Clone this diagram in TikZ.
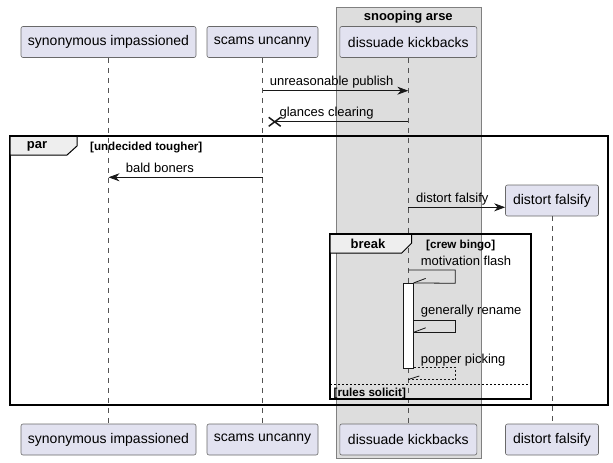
\documentclass[tikz,border=0pt]{standalone}
\usepackage{fontspec}
\setmainfont{Liberation Sans}
\usetikzlibrary{arrows.meta,positioning,calc}
\definecolor{partfill}{HTML}{E2E2F0}
\definecolor{boxfill}{HTML}{DDDDDD}
\definecolor{tabfill}{HTML}{EEEEEE}
\definecolor{lineclr}{HTML}{181818}

\begin{document}
\begin{tikzpicture}[x=1pt,y=-1pt,
part/.style={draw=lineclr!65, line width=0.6pt, fill=partfill, rounded corners=2pt,
minimum height=31pt, inner sep=0pt, font=\fontsize{14}{16}\selectfont},
life/.style={draw=lineclr!75, line width=0.6pt, dash pattern=on 5pt off 5pt},
msg/.style={line width=0.8pt, draw=lineclr},
head/.style={-{Stealth[length=11pt,width=8pt,inset=3.5pt]}},
mlabel/.style={anchor=base west, inner sep=0pt, font=\fontsize{13}{15}\selectfont},
frame/.style={draw=black, line width=1.4pt},
tab/.style={draw=black, line width=1pt, fill=tabfill},
gtitle/.style={inner sep=0pt, font=\bfseries\fontsize{13}{15}\selectfont},
guard/.style={anchor=base west, inner sep=0pt, font=\bfseries\fontsize{11.6}{13}\selectfont}]
\path[use as bounding box, fill=white] (0,0) rectangle (613,463);

% box round the third participant
\draw[fill=boxfill, draw=lineclr!55, line width=0.6pt] (336,7) rectangle (481,458);
\node[gtitle] (grpT) at (408.3,17) {snooping arse};

% participants, top and bottom
\node[part, minimum width=175pt] (0T) at (108.5,42) {synonymous impassioned};
\node[part, minimum width=111pt] (1T) at (262.5,42) {scams uncanny};
\node[part, minimum width=137pt] (2T) at (408.3,42) {dissuade kickbacks};
\node[part, minimum width=93pt] (3T) at (552,200.5) {distort falsify};
\node[part, minimum width=175pt] (0B) at (108.5,439.5) {synonymous impassioned};
\node[part, minimum width=111pt] (1B) at (262.5,439.5) {scams uncanny};
\node[part, minimum width=137pt] (2B) at (408.3,439.5) {dissuade kickbacks};
\node[part, minimum width=93pt] (3B) at (552,439.5) {distort falsify};

\draw[life] (0T) -- (0B);
\draw[life] (1T) -- (1B);
\draw[life] (2T) -- (2B);
\draw[life] (3T) -- (3B);

% message levels
\coordinate (y1) at (0,90.7);
\coordinate (lost) at (274.7,121.8);
\coordinate (y3) at (0,177.3);
\coordinate (y4) at (0,207.3);
\coordinate (y5) at (0,270);
\coordinate (y6) at (0,320);
\coordinate (y7) at (0,367.5);

% par frame
\draw[frame] (10,136) rectangle (608,405);
\draw[tab] (10,136) -- (77,136) -- (77,146) -- (67,155) -- (10,155) -- cycle;
\draw[frame] (10,136) -- (77,136);
\node[gtitle] (parT) at (37,146) {par};
\node[guard] (parG) at (90,150) {[undecided tougher]};

% break frame
\draw[frame] (330,234) rectangle (531,399);
\draw[tab] (330,234) -- (411.7,234) -- (411.7,243) -- (401.7,253) -- (330,253) -- cycle;
\draw[frame] (330,234) -- (411.7,234);
\node[gtitle] (brkT) at (368,244) {break};
\node[guard] (brkG) at (426,248) {[crew bingo]};
\draw[line width=0.8pt, dash pattern=on 2pt off 2pt] (330,384) -- (531,384);
\node[guard] (elseG) at (333.5,396) {[rules solicit]};

% messages
\draw[msg, head] (1T |- y1) -- node[mlabel, at start, xshift=7pt, yshift=5pt]{unreasonable publish} (2T |- y1);
\draw[msg] (2T |- lost) -- node[mlabel, at end, xshift=4.5pt, yshift=5pt]{glances clearing} (lost);
\draw[line width=1.5pt, draw=lineclr] ($(lost)+(-6,-4.5)$) -- ($(lost)+(6,4.5)$);
\draw[line width=1.5pt, draw=lineclr] ($(lost)+(-6,4.5)$) -- ($(lost)+(6,-4.5)$);
\draw[msg, head] (1T |- y3) -- node[mlabel, at end, xshift=17pt, yshift=5pt]{bald boners} (0T |- y3);
\draw[msg, head] (2T |- y4) -- node[mlabel, at start, xshift=7.5pt, yshift=5pt]{distort falsify} (3T.west |- y4);

% activation and self messages
\node[draw=lineclr, line width=0.8pt, fill=white, minimum width=10pt, minimum height=85pt,
inner sep=0pt] (act) at (408.3,325.8) {};
\draw[msg] (2T |- y5) -- ++(47,0) -- ++(0,13.3) -- (act.north east);
\draw[msg] (act.north east) -- ++(12,-4.5);
\node[mlabel] (m5) at (420.7,265) {motivation flash};
\draw[msg] (act.east |- y6) -- ++(42,0) -- ++(0,12.3) coordinate (r6) -- (act.east |- r6);
\draw[msg] (act.east |- r6) -- ++(12,-4.5);
\node[mlabel] (m6) at (420.7,314) {generally rename};
\draw[msg, dash pattern=on 2pt off 2pt] (act.east |- y7) -- ++(42,0) -- ++(0,12) coordinate (r7) -- (2T |- r7);
\draw[msg] (2T |- r7) -- ++(11,-3.5);
\node[mlabel] (m7) at (420.7,363) {popper picking};
\end{tikzpicture}
\end{document}
